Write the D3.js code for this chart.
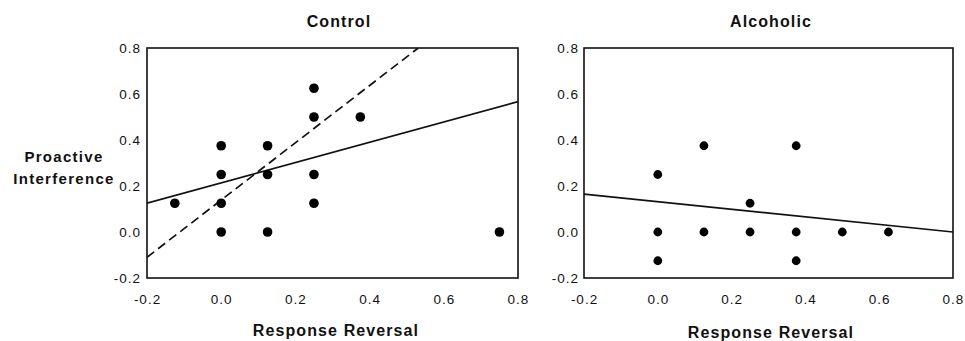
<!DOCTYPE html>
<html>
<head>
<meta charset="utf-8">
<script src="https://cdn.jsdelivr.net/npm/d3@7"></script>
<style>
	body { margin: 0; background: #fff; }
	text { font-family: 'Liberation Sans', Arial, Helvetica, sans-serif; fill: #111; }
	.tick text { font-size: 13.5px; letter-spacing: 1px; }
	.label { font-size: 16px; font-weight: bold; letter-spacing: 1.1px; }
	.ylabel { font-size: 15px; font-weight: bold; letter-spacing: 1.3px; }
</style>
</head>
<body>
<div class="chart"></div>
<script>
const WIDTH = 965
const HEIGHT = 341

const TICKS = [-0.2, 0.0, 0.2, 0.4, 0.6, 0.8]
const DOMAIN = [-0.2, 0.8]

// control group: response reversal (x) vs proactive interference (y)
const controlX = [-0.125, 0, 0, 0, 0, 0.125, 0.125, 0.125, 0.25, 0.25, 0.25, 0.25, 0.375, 0.75]
const controlY = [0.125, 0.375, 0.25, 0.125, 0, 0.375, 0.25, 0, 0.625, 0.5, 0.25, 0.125, 0.5, 0]
// fit lines as [x, y] end points
const controlSolid = [[-0.2, 0.125], [0.8, 0.567]]
const controlDashed = [[-0.2, -0.11], [0.531, 0.8]]

const alcoholicX = [0, 0, 0, 0.125, 0.125, 0.25, 0.25, 0.375, 0.375, 0.375, 0.5, 0.625]
const alcoholicY = [0.25, 0, -0.125, 0.375, 0, 0.125, 0, 0.375, 0, -0.125, 0, 0]
const alcoholicSolid = [[-0.2, 0.165], [0.8, 0.0]]

const panels = [
	{ title: 'Control', xs: controlX, ys: controlY, lines: [
		{ pts: controlSolid, dash: null },
		{ pts: controlDashed, dash: '9,5' },
	], left: 147, right: 518, titleX: 339, xlabelX: 336, xlabelY: 336, r: 4.8 },
	{ title: 'Alcoholic', xs: alcoholicX, ys: alcoholicY, lines: [
		{ pts: alcoholicSolid, dash: null },
	], left: 584, right: 953, titleX: 771, xlabelX: 771, xlabelY: 338, r: 4.4 },
]

const TOP = 48
const BOTTOM = 278

const svg = d3.select('.chart').append('svg')
	.attr('width', WIDTH)
	.attr('height', HEIGHT)

function drawPanel(p, i) {
	const scaleX = d3.scaleLinear().domain(DOMAIN).range([p.left, p.right])
	const scaleY = d3.scaleLinear().domain(DOMAIN).range([BOTTOM, TOP])
	const fmt = d => d.toFixed(1)

	const g = svg.append('g').attr('class', `panel panel--${i}`)

	const clipId = `clip-${i}`
	g.append('clipPath').attr('id', clipId)
		.append('rect')
		.attr('x', p.left).attr('y', TOP)
		.attr('width', p.right - p.left).attr('height', BOTTOM - TOP)

	const axisX = d3.axisBottom(scaleX).tickValues(TICKS).tickFormat(fmt).tickSize(0).tickPadding(16)
	const axisY = d3.axisLeft(scaleY).tickValues(TICKS).tickFormat(fmt).tickSize(0).tickPadding(i === 0 ? 6 : 5)

	g.append('g').attr('class', 'axis axis--x')
		.attr('transform', `translate(0, ${BOTTOM})`)
		.call(axisX)
		.call(s => s.select('.domain').remove())
		.call(s => s.selectAll('.tick text').attr('fill', '#111'))

	g.append('g').attr('class', 'axis axis--y')
		.attr('transform', `translate(${p.left}, 0)`)
		.call(axisY)
		.call(s => s.select('.domain').remove())
		.call(s => s.selectAll('.tick text').attr('fill', '#111'))

	const plot = g.append('g').attr('clip-path', `url(#${clipId})`)

	const line = d3.line().x(d => scaleX(d[0])).y(d => scaleY(d[1]))
	plot.selectAll('.fit').data(p.lines).enter().append('path')
		.attr('class', 'fit')
		.attr('d', d => line(d.pts))
		.attr('fill', 'none')
		.attr('stroke', '#111')
		.attr('stroke-width', 1.7)
		.attr('stroke-dasharray', d => d.dash)

	plot.selectAll('.dot').data(p.xs.map((x, j) => ({ x, y: p.ys[j] }))).enter().append('circle')
		.attr('class', 'dot')
		.attr('cx', d => scaleX(d.x))
		.attr('cy', d => scaleY(d.y))
		.attr('r', p.r)
		.attr('fill', '#000')

	g.append('rect')
		.attr('x', p.left).attr('y', TOP)
		.attr('width', p.right - p.left).attr('height', BOTTOM - TOP)
		.attr('fill', 'none')
		.attr('stroke', '#111')
		.attr('stroke-width', 1.6)

	g.append('text').attr('class', 'label')
		.attr('x', p.titleX).attr('y', 27)
		.attr('text-anchor', 'middle')
		.text(p.title)

	g.append('text').attr('class', 'label')
		.attr('x', p.xlabelX).attr('y', p.xlabelY)
		.attr('text-anchor', 'middle')
		.text('Response Reversal')
}

panels.forEach(drawPanel)

const ylab = svg.append('text').attr('class', 'ylabel').attr('text-anchor', 'middle')
ylab.append('tspan').attr('x', 64).attr('y', 162).text('Proactive')
ylab.append('tspan').attr('x', 64).attr('y', 184).text('Interference')
</script>
</body>
</html>
